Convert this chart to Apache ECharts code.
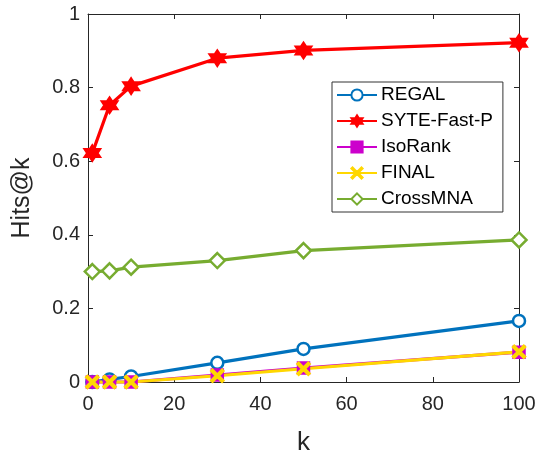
<!DOCTYPE html>
<html>
<head>
<meta charset="utf-8">
<script src="https://cdn.jsdelivr.net/npm/echarts@6/dist/echarts.min.js"></script>
<style>
html,body{margin:0;padding:0;background:#fff;}
#chart{width:540px;height:452px;}
</style>
</head>
<body>
<div id="chart"></div>
<script>
const kValues = [1, 5, 10, 30, 50, 100];
const regal = [0, 0.007, 0.015, 0.052, 0.09, 0.166];
const syteFastP = [0.622, 0.752, 0.804, 0.88, 0.901, 0.922];
const isoRank = [0, 0, 0, 0.019, 0.038, 0.081];
const finalAlg = [0, 0, 0, 0.017, 0.036, 0.082];
const crossMNA = [0.30, 0.302, 0.312, 0.33, 0.357, 0.386];
const seriesNames = ['REGAL', 'SYTE-Fast-P', 'IsoRank', 'FINAL', 'CrossMNA'];

const STAR = 'path://M0,-10 L2.887,-5 L8.66,-5 L5.77,0 L8.66,5 L2.887,5 L0,10 L-2.887,5 L-8.66,5 L-5.77,0 L-8.66,-5 L-2.887,-5 Z';
const XMARK = 'path://M-10,-8 L-8,-10 L0,-2 L8,-10 L10,-8 L2,0 L10,8 L8,10 L0,2 L-8,10 L-10,8 L-2,0 Z';
const FONT = 'Liberation Sans';

function pts(vals){ return kValues.map((k,i)=>[k, vals[i]]); }

function mk(name, vals, color, symbol, size, fill){
  return {
    name: name, type: 'line', data: pts(vals), clip: false,
    symbol: symbol, symbolSize: size, showAllSymbol: true,
    lineStyle: {color: color, width: 3.2},
    itemStyle: {color: fill, borderColor: color, borderWidth: 2.5},
    emphasis: {disabled: true}
  };
}

const axisCommon = {
  axisLine: {show: true, onZero: false, lineStyle: {color: '#262626', width: 1}},
  axisTick: {show: true, inside: true, length: 5, lineStyle: {color: '#262626'}},
  splitLine: {show: false}
};

const chart = echarts.init(document.getElementById('chart'), null, {renderer: 'canvas'});
chart.setOption({
  animation: false,
  backgroundColor: '#fff',
  textStyle: {fontFamily: FONT},
  grid: {left: 88, right: 21, top: 14, bottom: 70, containLabel: false, outerBoundsMode: 'none'},
  xAxis: [
    Object.assign({type: 'value', min: 0, max: 100, interval: 20, position: 'bottom',
      name: 'k', nameLocation: 'middle', nameGap: 48,
      nameTextStyle: {fontSize: 26, color: '#262626', fontFamily: FONT},
      axisLabel: {fontSize: 20, color: '#262626', margin: 12, fontFamily: FONT}}, axisCommon),
    Object.assign({type: 'value', min: 0, max: 100, interval: 20, position: 'top',
      axisLabel: {show: false}}, axisCommon)
  ],
  yAxis: [
    Object.assign({type: 'value', min: 0, max: 1, interval: 0.2, position: 'left',
      name: 'Hits@k', nameLocation: 'middle', nameGap: 53,
      nameTextStyle: {fontSize: 25, color: '#262626', fontFamily: FONT},
      axisLabel: {fontSize: 20, color: '#262626', margin: 8, fontFamily: FONT}}, axisCommon),
    Object.assign({type: 'value', min: 0, max: 1, interval: 0.2, position: 'right',
      axisLabel: {show: false}}, axisCommon)
  ],
  legend: {
    orient: 'vertical', left: 332, top: 82,
    data: seriesNames,
    backgroundColor: '#fff', borderColor: '#333', borderWidth: 1,
    padding: [3, 10, 3, 4], itemGap: 6, itemWidth: 40, itemHeight: 14,
    textStyle: {fontSize: 19, color: '#000', fontFamily: FONT, lineHeight: 20, padding: [0, 0, 0, -1]},
    selectedMode: false
  },
  series: [
    mk('REGAL', regal, '#0072BD', 'circle', 12, '#fff'),
    mk('SYTE-Fast-P', syteFastP, '#FF0000', STAR, 15, '#FF0000'),
    mk('IsoRank', isoRank, '#CC00CC', 'rect', 11, '#CC00CC'),
    mk('FINAL', finalAlg, '#FFD700', XMARK, 12, '#FFD700'),
    mk('CrossMNA', crossMNA, '#77AC30', 'diamond', 15, '#fff')
  ]
});
</script>
</body>
</html>
